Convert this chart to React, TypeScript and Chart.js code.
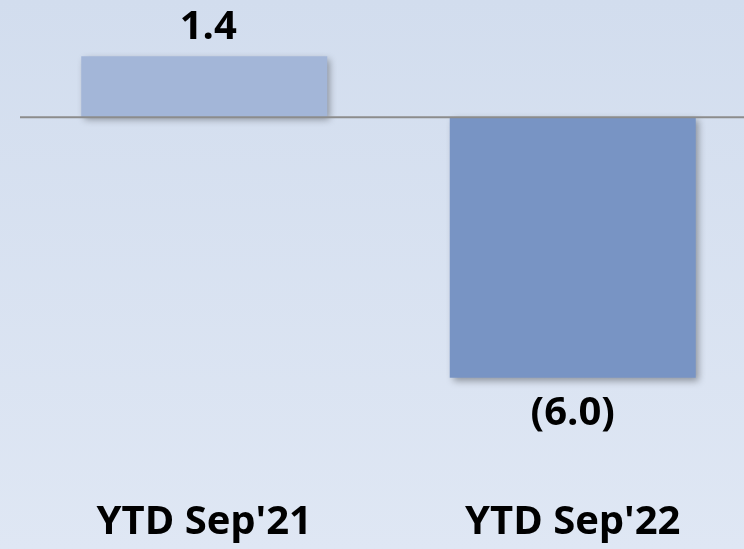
import React, { useEffect, useRef } from "react";
import { Chart, registerables } from "chart.js";

Chart.register(...registerables);

const categories = ["YTD Sep'21", "YTD Sep'22"];
const values = [1.4, -6.0];
const barColors = ["#a3b6d8", "#7894c4"];

const FONT = "'Open Sans', 'Liberation Sans', sans-serif";

const fmt = (v: number) => (v < 0 ? `(${Math.abs(v).toFixed(1)})` : v.toFixed(1));

const shadowPlugin = {
  id: "barShadow",
  beforeDatasetsDraw(chart: any) {
    const ctx = chart.ctx;
    ctx.save();
    ctx.shadowColor = "rgba(0,0,0,0.35)";
    ctx.shadowBlur = 7;
    ctx.shadowOffsetX = 3;
    ctx.shadowOffsetY = 3;
  },
  afterDatasetsDraw(chart: any) {
    const ctx = chart.ctx;
    ctx.restore();
    const y0 = chart.scales.y.getPixelForValue(0);
    ctx.save();
    ctx.strokeStyle = "#8c8c8c";
    ctx.lineWidth = 2;
    ctx.beginPath();
    ctx.moveTo(chart.chartArea.left, y0);
    ctx.lineTo(chart.chartArea.right, y0);
    ctx.stroke();
    ctx.restore();

    const meta = chart.getDatasetMeta(0);
    ctx.save();
    ctx.fillStyle = "#000";
    ctx.font = `bold 40px ${FONT}`;
    ctx.textAlign = "center";
    ctx.textBaseline = "alphabetic";
    meta.data.forEach((bar: any, i: number) => {
      const v = values[i];
      if (v >= 0) {
        ctx.fillText(fmt(v), bar.x + 4, bar.y - 17);
      } else {
        ctx.fillText(fmt(v), bar.x, bar.y + 47);
      }
    });
    ctx.restore();
  },
};

export default function App() {
  const ref = useRef<HTMLCanvasElement>(null);
  useEffect(() => {
    if (!ref.current) return;
    const chart = new Chart(ref.current, {
      type: "bar",
      data: {
        labels: categories,
        datasets: [
          {
            data: values,
            backgroundColor: barColors,
            borderWidth: 0,
            barPercentage: 0.6676,
            categoryPercentage: 1,
          },
        ],
      },
      options: {
        responsive: false,
        animation: false,
        layout: { padding: { left: 20, right: 0, top: 9, bottom: -55 } },
        plugins: { legend: { display: false }, tooltip: { enabled: false } },
        scales: {
          x: {
            grid: { display: false, drawTicks: false },
            border: { display: false },
            ticks: {
              color: "#000",
              padding: 57,
              font: { family: FONT, size: 40, weight: "bold" },
              maxRotation: 0,
            },
          },
          y: {
            display: false,
            min: -7.48,
            max: 2.49,
          },
        },
      },
      plugins: [shadowPlugin],
    });
    return () => chart.destroy();
  }, []);

  return (
    <div
      style={{
        position: "absolute",
        left: 0,
        top: 0,
        width: 744,
        height: 549,
        overflow: "hidden",
        background: "linear-gradient(to bottom, #d2ddee, #dfe7f4)",
      }}
    >
      <canvas ref={ref} width={757} height={549} style={{ width: 757, height: 549, display: "block" }} />
    </div>
  );
}
